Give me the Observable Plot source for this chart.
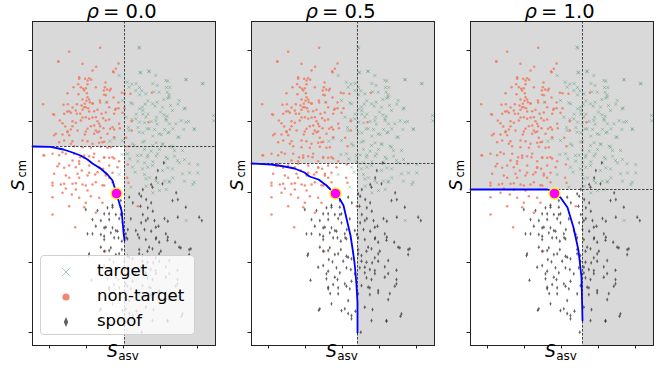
<!DOCTYPE html>
<html><head><meta charset="utf-8">
<script src="https://cdn.jsdelivr.net/npm/d3@7"></script>
<script src="https://cdn.jsdelivr.net/npm/@observablehq/plot@0.6"></script>
<style>
body{margin:0;background:#fff;font-family:"DejaVu Sans",sans-serif;}
#wrap{position:relative;width:671px;height:371px;overflow:hidden;background:#fff;}
.panel{position:absolute;top:0;}
#legend{position:absolute;left:40px;top:255px;width:155px;height:80px;background:rgba(255,255,255,0.8);border:1px solid #d0d0d0;border-radius:4px;box-sizing:border-box;}
.lrow{position:absolute;left:0;height:24px;width:150px;font-size:16.5px;color:#000;}
.lrow svg{position:absolute;left:15px;top:2px;}
.lrow span{position:absolute;left:56px;top:1px;line-height:20px;}
</style></head>
<body>
<div id="wrap"></div>
<script>
// ---- data (score units; axes carry no tick labels) ----
const rhoValues = ["0.0", "0.5", "1.0"];
const thresholdASV = [27.6, 31.8, 33.6];
const thresholdCM = [59.7, 54.6, 46.8];
const operatingPoint = [[25.2, 45.6]];
const xTicks = [5.1, 16.2, 27.3, 38.4, 49.5];
const yTicks = [88.5, 67.2, 45.9, 24.9, 3.9];
const xDomain = [0, 54.9];
const yDomain = [0, 97.2];

const curveRho00 = [[0,59.7],[5.4,59.6],[9.3,58.8],[12,57.9],[14.4,57],[16.5,55.8],[18,54.6],[20.4,53.1],[22.5,51.3],[24,49.5],[25.2,45.6],[25.8,43.5],[26.7,40.5],[27,37.5],[27.3,34],[27.6,31.5]];
const curveRho05 = [[0,54.6],[6,54.3],[9.9,53.7],[12.9,53.1],[15.9,51.9],[17.4,50.7],[20.1,49.8],[22.5,48],[24,46.5],[25.2,45.6],[26.4,44.1],[27.6,42],[29.7,33],[30.3,29.1],[30.9,24.9],[31.2,21.9],[31.5,18],[31.8,12.9],[31.8,3.9]];
const curveRho10 = [[0,46.8],[23.1,46.8],[24,46.5],[25.2,45.6],[27,44.4],[29.1,41.4],[30.9,35.4],[32.4,28.5],[33.3,20.4],[33.6,7.5]];
const curves = [curveRho00, curveRho05, curveRho10];

const targetScores = [[26,81],[22.2,73],[32.1,89.2],[34.9,82.2],[32.4,81.8],[40.6,79.3],[46.1,79.8],[51.1,78.6],[28.4,79],[29.8,78.4],[31.1,78.6],[36.1,78.6],[37.4,78],[32.1,77.4],[40.2,77.4],[41.2,77.4],[32.8,76.4],[36.4,76.1],[40.4,76],[41,75.2],[32.1,75.2],[40.6,74.2],[39.4,73.8],[34.6,73.4],[37.4,73],[29.5,72.8],[33.8,72.4],[43.6,72.4],[41.4,72],[36.8,71.8],[45.8,71.2],[32.1,71],[33.1,70.5],[38.4,70],[31.1,69.4],[33.1,69.4],[34.6,69.4],[39.4,69.2],[40.4,68.8],[37.2,68.5],[29.8,67.8],[40.1,67.5],[46.8,67.2],[44.6,67.4],[54.4,67.4],[32.1,67],[33.6,66.8],[35.6,67.2],[37.4,66.4],[41.1,66.5],[28.8,65.4],[31.6,65.4],[34.4,65],[36.6,64.8],[39.6,64.8],[42.1,65],[45.4,64.8],[48.6,64.8],[23.2,61.3],[24.5,62.1],[26,51.3],[26.8,57.3],[33.1,63.8],[36.1,62.8],[38.6,63.3],[40.6,63.8],[43.6,62.5],[33.6,61.3],[37.1,60.8],[39.1,60.3],[41.6,59.8],[33.6,58.8],[35.6,58.3],[38.1,58.8],[42.6,58.5],[32.6,57.1],[34.6,57.1],[37.1,56.8],[40.1,56.5],[42.6,56.8],[45.6,55.8],[31.6,55.3],[33.6,54.8],[36.1,55.1],[39.6,54.8],[44.1,54.8],[49.6,54.3],[34.6,53.5],[40.6,53.3],[47.1,51.8],[49.6,51.8],[33.6,51.3],[35.1,50.3],[42.1,50.3],[45.6,49.3],[37.6,48.8],[39.6,49.3],[41.1,49.3],[48.1,48.3],[34.1,47.8],[38.1,46.5],[40.1,46.8],[36.1,45.8],[46.1,37.5],[30.5,60],[29.2,56],[30.8,52],[29.5,47.5],
[32,89.5],[32.3,82],[35,82.3],[37,81],[40,79.5],[46,79.7],[51,78.5],[54.3,69],[29,77.5],[31,76.5],[34,75.5],[38,76],[41,74.5],[44,73.5],[27,73.5],[30,72.5],[33,71.5],[36,72.5],[39,71.5],[42,70.5],[45.5,71],[48.5,65],[28,68.5],[31,68],[34,68.5],[37,67.5],[40,68],[43,66.5],[46,67],[29,64.5],[32,64],[35,65],[38,63.5],[41,64],[44,62.5],[27,61.5],[30,60.5],[33,61],[36,60],[39,60.5],[42,59.5],[45,58.5],[28.5,57.5],[31.5,57],[34.5,56.5],[37.5,57.5],[40.5,56],[43.5,55.5],[47,54.5],[30,53.5],[33,53],[36,54],[39,52.5],[42,53],[45,51.5],[48.5,49],[34,50],[37,49.5],[41,49]];

const nonTargetScores = [[20.3,89.3],[11,88.1],[7.8,85.2],[15,84.5],[19.1,83.6],[18,82.5],[25.8,84.6],[25,83],[24.3,82],[14,80.5],[15.8,80],[17,80.2],[17.6,79.7],[16.5,78.4],[13.7,78.4],[14.5,77.5],[16,77.2],[15.2,77],[21.9,78.9],[21.4,76.5],[22.4,76.8],[23.2,76.5],[26.8,75.8],[27.6,75.7],[10.5,75.7],[13.8,75.4],[16.3,75.7],[16.5,74.5],[17,73.8],[21.5,75.2],[22,75.1],[24.3,74.4],[17.2,73],[18,72.7],[20.3,72.9],[22.3,73],[25.8,72.9],[15,73.8],[16.2,73.4],[15.7,72.5],[14.7,72],[13.3,72.4],[9.3,72.2],[10.6,72.4],[3.2,72.4],[12,71.4],[15,70.7],[16.7,71.2],[16,71.5],[18.5,70.3],[19.5,70.7],[24.8,70.7],[25.8,71.2],[10.4,70.2],[11,70.3],[11.5,69.8],[6.2,69.4],[13.3,69.5],[14.3,69.5],[17,70.2],[20.7,69.5],[22,69.9],[24.5,69.5],[15,68.4],[16,68.5],[18,68.4],[19,68.5],[19.5,67.3],[21.2,68.2],[23,67.8],[27,69.8],[8.2,67.5],[13,66.8],[9.8,65.7],[12,65.8],[11.5,64.8],[17.5,65.8],[18.5,66],[20.3,65.8],[21.3,65.2],[23.3,65],[24.5,64.8],[26.2,65.2],[10.5,64.3],[16,64.2],[19,64.5],[20,64.2],[29.4,75.5],[35.8,75.8],[29.8,67.3],[34.8,67],[27.6,71.2],[29.8,64.5],[6.5,63.1],[9,63.3],[11,63.1],[15.7,63.3],[18.5,63.5],[20.5,62.3],[9.5,61.5],[12,61.3],[16.5,61.3],[20,60.8],[21.5,61.1],[12.5,59.8],[15,59.5],[17.5,59.3],[20.5,59.6],[22.5,59.3],[3.3,57.1],[8,57.1],[10,57.5],[14.3,56.5],[15.5,56.3],[17,56.8],[18.3,56.5],[21.5,56.3],[23,56.3],[24.5,56.1],[12,55.5],[14,55.3],[20,55.3],[26,55.3],[7.5,53.8],[9.5,53.3],[13,53.5],[14.8,52.5],[20,53.3],[21.2,53],[17,51.8],[18.8,51.3],[22,51.5],[24,51.8],[23,50.3],[11,50.3],[14,50.3],[6,48.8],[8.5,48.3],[12,48.5],[15,48.3],[18,48.3],[21,48.1],[10,47.1],[13,46.8],[16.5,46.5],[9,45.8],[11.8,45.3],[6,44.5],[14,44.3],[17.5,44.8],[20,44.3],[16,42.8],[21,42.8],[11,41.8],[15.5,41.5],[6,39.3],[19,39.8],[12.8,35.5],[28.1,62.3],[28.8,59.8],[28.6,54.3],[28.4,50.3],[28.8,48.8],[31.6,41.8],[21.8,28.3],
[7.7,85.2],[24.2,82.3],[14,80],[16.5,79.5],[12.3,77.5],[15.5,76.5],[19,77.5],[21.7,77.5],[23.5,77],[6.5,69.2],[9.5,69.5],[13,70.5],[15.5,71.5],[18,72.5],[20.2,73.5],[23,71.5],[25,71],[9,66.7],[12,67.3],[14.5,67.5],[17,68],[20,66.5],[22,67.5],[24,65.5],[26,66.5],[7,63.5],[10.5,64],[13.5,64.5],[16.5,65],[19.5,64],[22.5,63.5],[24.5,62.5],[8,61],[11.5,60.5],[15,61.5],[18,60.5],[21,61],[23.5,59.5],[6,57.5],[9,58],[12.5,57.5],[15.5,57],[18.5,57.5],[21.5,56.5],[24,56.5],[3.5,57],[8,54.5],[11,54],[14,54.5],[17,54],[20,53.5],[23,54],[25.5,53.5],[6.5,51.5],[10,51],[13.5,51.5],[16.5,51],[19.5,52],[22,51],[6,48],[9.5,48.5],[13,48.7],[16,48],[19,49],[21.5,48],[24,49]];

const spoofScores = [[16,40.8],[19.5,40.5],[22.5,41.3],[24,42.1],[26.5,41.5],[21.5,39.5],[25,39.3],[18,37.8],[20.5,37.5],[23,37.8],[26,38.1],[19,35.8],[21.5,35.3],[24,35.3],[16.5,33.5],[20.5,33.3],[23.5,33.8],[25.5,34.3],[27,36.8],[21.5,31.8],[25.8,32.3],[26.5,39.3],[39.4,54.8],[37.6,52.5],[37.1,50.3],[35.6,48.3],[43.1,45.8],[43.6,43.8],[33.1,46.8],[32.6,44.8],[34.1,43.8],[35.6,42.8],[32.4,41.8],[34.6,41.3],[36.1,40.3],[33.1,39.3],[34.6,38.1],[36.6,37.5],[39.6,38.1],[40.6,37.3],[43.6,38.5],[32.6,36.8],[37.8,35.8],[50.8,37.5],[33.6,34.8],[35.6,34.3],[37.1,32.3],[40.6,32.5],[31.6,33.3],[28.6,34.8],[30.1,42.8],[28.1,32.3],[21.5,32.8],[24.5,32.3],[26.8,31.3],[28.5,32],[32,32.3],[34,31.8],[37,32],[38,31],[40.5,31.6],[42.8,31],[23.5,29.3],[26.8,28.8],[32,28.8],[34.5,28.3],[36,29],[38.5,28.3],[44.5,29.3],[47,28.8],[16.8,27],[21.5,28.3],[25,27.3],[28.5,26.8],[33,27],[37,26.3],[47,27.3],[23.2,25.8],[24.3,25.1],[27.5,25.3],[30,26],[33,25.3],[34.5,25],[36.2,24.8],[38,25.3],[21.5,24],[25.5,23.3],[28.5,23.3],[29.8,22.8],[32.5,23.3],[35.5,22.8],[40,23.6],[43.5,22.6],[23,22.3],[26.5,21.8],[34,21.8],[37,21.6],[41,21.6],[17.7,19.6],[22.5,20],[25.8,19.8],[30,19.3],[34.5,20.3],[36,19.8],[43.5,19.8],[24.5,18.3],[28.5,17.8],[33,18],[35.5,17.3],[43,17.8],[23,17],[26,17.3],[29.5,17],[23.6,15.6],[35.5,15.3],[38,15.8],[41.5,15.6],[41,13.8],[20.2,10.6],[28,11],[29,9.6],[31.2,10.3],[36.3,10.8],[30,8],[44.7,8.8],[40.5,7.3],[32.8,4],
[24,41.5],[27,39.5],[29.5,38],[22,35.5],[25,34.5],[28,33.5],[31,34.5],[34,37.5],[37,35.5],[40,33.5],[44,29.5],[47.5,29],[20.5,29.5],[23,28.5],[26,27.5],[29,26.5],[32,27.5],[35,29.5],[38,27.5],[41,25.5],[20,23.5],[22.5,21.5],[25,20.5],[28,18.5],[31,21.5],[34,23.5],[37,22.5],[40,20.5],[23,17.5],[26,15.5],[29,13.5],[32,15.5],[35,17.5],[38,16.5],[43.5,18.5],[24,12.5],[27,10.5],[30,9],[34,11.5],[36,7.5],[40.5,7.5],[45,9.5],[20.5,11],[17,27.5],[18,33.5],[23,39.5],[26.5,43.5],[29,44.5],[32,45.5],[36,47.5],[39,48.5],[42,43.5],[46,41.5],[50,38.5]];

// ---- styles ----
const thinDiamond = {
  draw(ctx, size) {
    const r = Math.sqrt(size / Math.PI);
    const w = r * 0.6, h = r * 1.25;
    ctx.moveTo(0, -h); ctx.lineTo(w, 0); ctx.lineTo(0, h); ctx.lineTo(-w, 0); ctx.closePath();
  }
};
const FONT = "DejaVu Sans";

function panel(i) {
  const thrX = thresholdASV[i], thrY = thresholdCM[i];
  return Plot.plot({
    width: 220, height: 371,
    marginLeft: 32, marginRight: 5, marginTop: 21, marginBottom: 26,
    style: {fontFamily: FONT, background: "transparent", overflow: "visible"},
    x: {domain: xDomain, axis: null},
    y: {domain: yDomain, axis: null},
    marks: [
      Plot.frame({fill: "#d9d9d9", stroke: null}),
      Plot.rect([0], {x1: () => xDomain[0], x2: () => thrX, y1: () => yDomain[0], y2: () => thrY, fill: "#ffffff"}),
      Plot.dot(targetScores, {x: d => d[0], y: d => d[1], symbol: "times", r: 1.6, stroke: "#2e8b57", strokeOpacity: 0.42, strokeWidth: 0.8}),
      Plot.dot(nonTargetScores, {x: d => d[0], y: d => d[1], r: 1.25, fill: "#f07a62", fillOpacity: 0.85, stroke: null}),
      Plot.dot(spoofScores, {x: d => d[0], y: d => d[1], symbol: thinDiamond, r: 1.7, fill: "#333333", fillOpacity: 0.75, stroke: null}),
      Plot.ruleX([thrX], {stroke: "#333", strokeWidth: 0.9, strokeDasharray: "2.5,1.5"}),
      Plot.ruleY([thrY], {stroke: "#333", strokeWidth: 0.9, strokeDasharray: "2.5,1.5"}),
      Plot.line(curves[i], {x: d => d[0], y: d => d[1], stroke: "#0000ff", strokeWidth: 1.8}),
      Plot.dot(operatingPoint, {x: d => d[0], y: d => d[1], r: 5.5, fill: "#ff00ff", stroke: "#ffff00", strokeWidth: 1.3}),
      Plot.frame({stroke: "#222", strokeWidth: 1}),
      Plot.axisX({ticks: xTicks, tickFormat: () => "", tickSize: 3.5, label: null, stroke: "#222"}),
      Plot.axisY({ticks: yTicks, tickFormat: () => "", tickSize: 3.5, label: null, stroke: "#222"}),
      // title rho = value
      Plot.text(["ρ"], {frameAnchor: "top", text: d => d, dx: -25, dy: -4, lineAnchor: "bottom", textAnchor: "end", fontSize: 19.5, fontStyle: "italic", fill: "#000"}),
      Plot.text([`= ${rhoValues[i]}`], {frameAnchor: "top", text: d => d, dx: -21, dy: -4, lineAnchor: "bottom", textAnchor: "start", fontSize: 19.5, fill: "#000"}),
      // x label S_asv
      Plot.text(["S"], {frameAnchor: "bottom", text: d => d, dx: -11.5, dy: 11.5, fontSize: 17, fontStyle: "italic", fill: "#000"}),
      Plot.text(["asv"], {frameAnchor: "bottom", text: d => d, dx: 4.5, dy: 14, fontSize: 12, fill: "#000"}),
      // y label S_cm
      Plot.text(["S"], {frameAnchor: "left", text: d => d, dx: -13.5, dy: 7, rotate: -90, fontSize: 17, fontStyle: "italic", fill: "#000"}),
      Plot.text(["cm"], {frameAnchor: "left", text: d => d, dx: -10.5, dy: -6, rotate: -90, fontSize: 11.5, fill: "#000"})
    ]
  });
}

const wrap = document.getElementById("wrap");
[0, 219, 438].forEach((left, i) => {
  const d = document.createElement("div");
  d.className = "panel";
  d.style.left = left + "px";
  d.appendChild(panel(i));
  wrap.appendChild(d);
});

// legend (first panel)
const legendItems = ["target", "non-target", "spoof"];
const leg = document.createElement("div");
leg.id = "legend";
legendItems.forEach((name, k) => {
  const row = document.createElement("div");
  row.className = "lrow";
  row.style.top = (4 + k * 25) + "px";
  let sym = "";
  if (k === 0) sym = '<path d="M6,6L14,14M14,6L6,14" stroke="#2e8b57" stroke-opacity="0.45" stroke-width="1"/>';
  if (k === 1) sym = '<circle cx="10" cy="10" r="3.6" fill="#f07a62" fill-opacity="0.9"/>';
  if (k === 2) sym = '<path d="M10,5L12.2,10L10,15L7.8,10Z" fill="#3a3a3a" fill-opacity="0.8"/>';
  row.innerHTML = `<svg width="20" height="20">${sym}</svg><span>${name}</span>`;
  leg.appendChild(row);
});
wrap.appendChild(leg);
</script>
</body></html>
